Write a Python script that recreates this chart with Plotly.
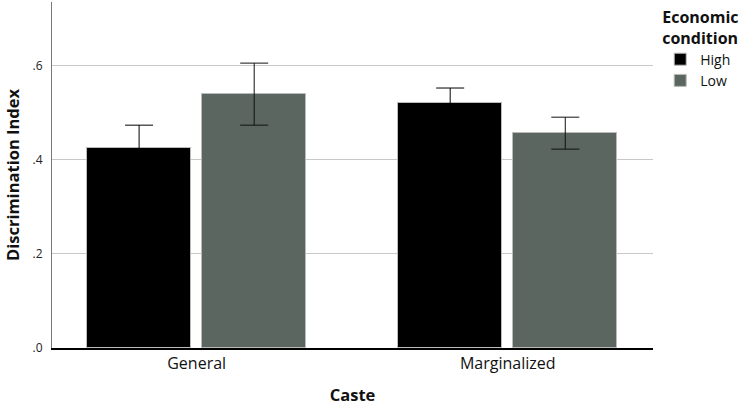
import plotly.graph_objects as go

categories = ["General", "Marginalized"]
high_vals = [0.425, 0.521]
high_err = [0.049, 0.032]
low_vals = [0.540, 0.457]
low_err = [0.066, 0.034]
ytick_vals = [0.0, 0.2, 0.4, 0.6]
ytick_text = [".0", ".2", ".4", ".6"]

FONT = "Open Sans"

fig = go.Figure()
fig.add_trace(go.Bar(
    name="High", x=categories, y=high_vals,
    marker=dict(color="#000000", line=dict(color="#bbbbbb", width=1)),
    width=0.334, offset=-0.352,
    error_y=dict(type="data", array=high_err, color="#000000", thickness=1, width=14),
))
fig.add_trace(go.Bar(
    name="Low", x=categories, y=low_vals,
    marker=dict(color="#5b6660", line=dict(color="#bbbbbb", width=1)),
    width=0.334, offset=0.018,
    error_y=dict(type="data", array=low_err, color="#111111", thickness=1, width=14),
))

fig.update_layout(
    width=744, height=406,
    margin=dict(l=52, r=91, t=2, b=58),
    paper_bgcolor="white", plot_bgcolor="white",
    font=dict(family=FONT, color="#111111"),
    barmode="group",
    bargap=0.0,
    xaxis=dict(
        range=[-0.465, 1.467],
        showgrid=False,
        showline=True, linecolor="#000000", linewidth=2,
        ticks="", tickfont=dict(size=16, color="#111111"),
        title=dict(text="<b>Caste</b>", font=dict(size=16.5), standoff=18),
        zeroline=False,
    ),
    yaxis=dict(
        range=[0, 0.736],
        tickvals=ytick_vals, ticktext=ytick_text,
        tickfont=dict(size=12, color="#222222"),
        showgrid=True, gridcolor="#c8c8c8", gridwidth=1,
        showline=True, linecolor="#777777", linewidth=1,
        zeroline=False, ticks="", ticklabelstandoff=6,
        title=dict(text="<b>Discrimination Index</b>", font=dict(size=16.5), standoff=8),
    ),
    legend=dict(
        x=1.012, xanchor="left", y=1.0, yanchor="top",
        title=dict(text="<b>Economic<br>condition</b>", font=dict(size=16)),
        font=dict(size=14), itemwidth=30,
        tracegroupgap=0, bgcolor="rgba(0,0,0,0)",
    ),
    showlegend=True,
)

fig.write_html("out.html")
